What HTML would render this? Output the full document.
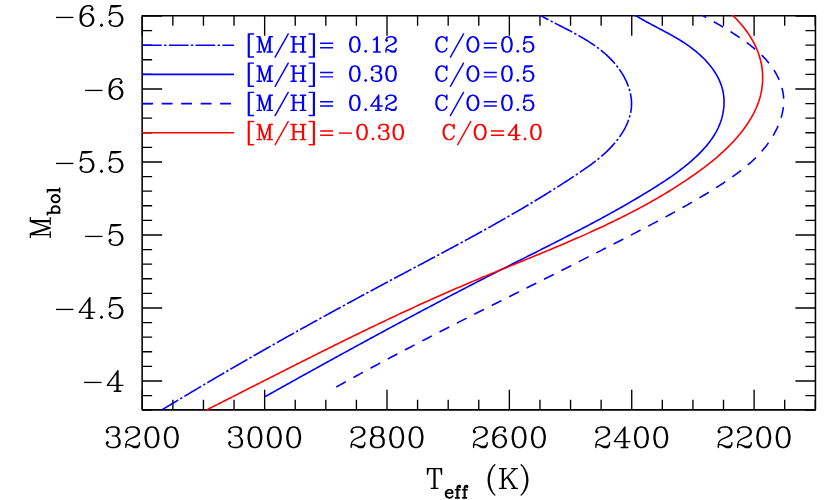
<!DOCTYPE html>
<html><head><meta charset="utf-8"><title>plot</title>
<style>html,body{margin:0;padding:0;background:#fff}svg{display:block}</style></head><body>
<svg width="830" height="500" viewBox="0 0 830 500">
<rect width="830" height="500" fill="#fff"/>
<defs>
<path id="g0" d="M124 -347l-3 2 -44 14 -5 3 -16 16 -3 4 -15 30 0 4 -1 1 0 18 3 7 16 16 7 3 9-3 16-16 3-7 -3-9 -16-16 -6-3 7-14 14-14 43-14 59 0 26 13 14 27 0 42 -13 26 -27 14 -46 0 -5 2 -3 3 -2 7 2 5 3 3 5 2 46 0 28 14 14 14 14 43 0 43 -14 28 -14 14 -28 14 -59 0 -43-14 -14-14 -7-14 6-3 16-16 3-9 -3-7 -16-16 -7-3 -9 3 -16 16 -3 7 0 18 1 1 0 4 15 30 19 20 5 3 44 14 3 2 2-1 1 1 69 0 6-3 41-13 5-3 19-20 15-30 0-4 1-1 0-50 -1-1 0-4 -15-30 -3-4 -32-32 -9-6 3-2 17-5 8-7 15-30 0-4 1-1 0-50 -1-1 0-4 -15-30 -8-7 -41-13 -6-3 -69 0 -1 1z"/>
<path id="g1" d="M77 -331l-5 3 -19 20 -15 30 0 4 -1 1 0 18 3 7 16 16 7 3 9-3 16-16 3-7 -3-9 -16-16 -6-3 7-14 14-14 43-14 59 0 28 14 14 14 14 28 0 26 -13 26 -3 3 -42 28 -95 47 -36 35 -3 5 -14 44 -2 3 1 2 -1 1 0 50 1 3 4 5 5 2 5-1 5-4 2-5 0-28 10-10 24 0 72 43 5 4 4 0 1 1 66 0 7-3 19-20 15-30 0-3 1-1 0-35 -2-5 -5-4 -3-1 -7 2 -4 5 -1 3 0 28 -12 12 -28 14 -43 0 -41-17 -2 0 -3-2 -2 0 -3-2 -2 0 -3-2 -2 0 -3-2 -2 0 -3-2 -2 0 -3-2 -2 0 -3-2 -3 0 -1-1 -33 0 -1-3 9-27 30-30 39-19 2 0 3-2 2 0 3-2 2 0 3-2 2 0 3-2 2 0 3-2 2 0 3-2 2 0 3-2 2 0 3-2 27-10 4-3 4-1 42-28 8-8 15-30 0-4 1-1 0-34 -1-1 0-4 -15-30 -19-20 -5-3 -41-13 -6-3 -69 0 -1 1 -2-1 -3 2z"/>
<path id="g2" d="M140 -347l-6 3 -41 13 -3 2 -6 6 -29 44 0 2 -3 6 0 4 -1 1 0 4 -1 1 0 4 -1 1 0 4 -1 1 0 4 -1 1 0 4 -1 1 0 4 -1 1 0 4 -1 1 0 4 -1 1 0 4 -1 1 0 4 -1 1 0 4 -1 1 0 4 -1 1 0 4 -2 6 0 56 1 1 0 4 1 1 0 4 1 1 0 4 1 1 0 4 1 1 0 4 1 1 0 4 1 1 0 4 1 1 0 4 1 1 0 4 1 1 0 4 1 1 0 4 1 1 0 4 1 1 3 17 3 7 28 42 9 8 41 13 6 3 40 0 6-3 41-13 3-2 6-6 29-44 0-2 3-6 0-4 1-1 0-4 1-1 0-4 1-1 0-4 1-1 0-4 1-1 0-4 1-1 0-4 1-1 0-4 1-1 0-4 1-1 0-4 1-1 0-4 1-1 0-4 1-1 0-4 1-1 0-4 2-6 0-56 -1-1 0-4 -1-1 0-4 -1-1 0-4 -1-1 0-4 -1-1 0-4 -1-1 0-4 -1-1 0-4 -1-1 0-4 -1-1 0-4 -1-1 0-4 -1-1 0-4 -1-1 0-4 -1-1 -3-17 -3-7 -28-42 -9-8 -41-13 -6-3zM147 -325l26 0 28 14 14 14 15 30 0 4 1 1 0 4 1 1 0 4 1 1 0 4 1 1 0 4 1 1 0 4 1 1 0 4 1 1 0 4 1 1 0 4 1 1 0 4 1 1 0 4 1 1 0 4 1 1 0 4 1 1 0 4 2 6 0 48 -1 1 0 4 -1 1 0 4 -1 1 0 4 -1 1 0 4 -1 1 0 4 -1 1 0 4 -1 1 0 4 -1 1 0 4 -1 1 -6 34 -15 30 -14 14 -28 14 -26 0 -28-14 -14-14 -15-30 0-4 -1-1 0-4 -1-1 0-4 -1-1 0-4 -1-1 0-4 -1-1 0-4 -1-1 0-4 -1-1 0-4 -1-1 0-4 -1-1 0-4 -1-1 0-4 -1-1 0-4 -1-1 0-4 -1-1 0-4 -2-6 0-48 1-1 0-4 1-1 0-4 1-1 0-4 1-1 0-4 1-1 0-4 1-1 0-4 1-1 0-4 1-1 0-4 1-1 6-34 15-30 14-14z"/>
<path id="g3" d="M124 -347l-6 3 -41 13 -8 7 -15 30 0 4 -1 1 0 50 1 1 0 4 15 30 8 7 11 3 3 2 -3 2 -11 3 -5 3 -16 16 -3 4 -15 30 0 4 -1 1 0 66 1 1 0 4 15 30 19 20 5 3 41 13 6 3 72 0 6-3 41-13 5-3 19-20 15-30 0-4 1-1 0-66 -1-1 0-4 -15-30 -3-4 -16-16 -5-3 -11-3 -3-2 3-2 11-3 8-7 15-30 0-4 1-1 0-50 -1-1 0-4 -15-30 -8-7 -41-13 -6-3zM131 -181l58 0 28 14 14 14 14 28 0 58 -14 28 -14 14 -28 14 -58 0 -28-14 -14-14 -14-28 0-58 14-28 14-14zM104 -311l27-14 58 0 26 13 14 27 0 42 -13 26 -27 14 -58 0 -26-13 -14-27 0-42z"/>
<path id="g4" d="M209 -347l-53 0 -6 3 -41 13 -5 3 -35 36 -15 30 -5 21 -1 1 0 3 -1 1 0 3 -1 1 0 3 -1 1 0 3 -1 1 0 3 -1 1 0 3 -1 1 0 3 -1 1 0 3 -1 1 0 3 -1 1 0 3 -1 1 0 3 -1 1 0 101 1 1 -1 2 2 3 14 44 3 5 32 32 5 3 41 13 6 3 40 0 6-3 41-13 5-3 32-32 3-5 14-44 2-3 -1-2 1-1 0-18 -1-1 1-2 -2-3 -14-44 -3-5 -32-32 -5-3 -41-13 -6-3 -21 0 -1 1 -2-1 -3 2 -44 14 -5 3 -28 28 -1-1 0-18 1-1 14-59 15-30 30-30 28-14 42 0 27 14 6 12 -6 3 -16 16 -3 7 3 9 16 16 7 3 5-1 4-2 16-16 3-7 0-18 -1-1 0-4 -15-30 -7-7 -30-15 -4 0zM173 -197l28 14 30 30 13 39 0 3 1 1 0 12 -14 43 -30 30 -28 14 -26 0 -28-14 -30-30 -13-39 0-3 -1-1 0-12 14-43 30-30 39-13 3 0 1-1z"/>
<path id="g5" d="M210 -347l-7 1 -4 3 -174 237 -4 9 2 7 3 3 5 2 149 0 1 1 0 72 -1 1 -37 0 -5 2 -3 3 -2 7 2 5 3 3 5 2 114 0 5-2 3-3 2-7 -2-5 -5-4 -3-1 -37 0 -1-1 0-72 1-1 69 0 5-2 3-3 2-5 -2-7 -3-3 -5-2 -69 0 -1-1 0-230 -1-3 -5-5zM180 -278l1 1 0 169 -1 1 -124 0 -1-2 9-11 2-4 9-11 2-4 9-11 2-4 9-11 2-4 9-11 2-4 9-11 2-4 9-11 2-4 9-11 35-49z"/>
<path id="g6" d="M64 -154.7H352V-133.3H64z"/>
<path id="g7" d="M78 -43l-6 3 -16 16 -3 9 3 7 16 16 9 3 7-3 16-16 3-9 -3-7 -16-16 -6-3z"/>
<path id="g8" d="M75 -346l-5 5 -2 6 0 4 -1 1 0 4 -1 1 0 4 -1 1 0 4 -1 1 0 4 -1 1 0 4 -1 1 0 4 -1 1 0 4 -1 1 0 4 -1 1 0 4 -1 1 0 4 -1 1 0 4 -1 1 0 4 -1 1 0 4 -1 1 0 4 -1 1 0 4 -1 1 0 4 -1 1 0 4 -1 1 0 4 -1 1 0 4 -1 1 0 4 -1 1 0 4 -1 1 0 4 -1 1 0 4 -1 1 0 4 -1 1 0 4 -1 1 0 4 -1 1 0 4 -1 1 0 4 -1 1 0 4 -2 6 1 9 5 5 3 1 7-1 34-33 39-13 3 0 1-1 43 0 28 14 30 30 14 43 0 28 -14 43 -30 30 -28 14 -43 0 -43-14 -14-14 -7-14 6-3 16-16 3-9 -3-7 -16-16 -4-2 -5-1 -7 3 -16 16 -3 7 0 18 1 1 0 4 15 30 19 20 5 3 44 14 3 2 2-1 1 1 53 0 6-3 41-13 5-3 32-32 3-5 14-44 2-3 -1-2 1-1 0-34 -1-1 1-2 -2-3 -14-44 -3-5 -32-32 -5-3 -41-13 -6-3 -53 0 -1 1 -2-1 -3 2 -44 14 -5 3 -4 4 -1-1 0-3 1-1 0-4 1-1 0-4 1-1 0-4 1-1 0-4 1-1 0-4 1-1 0-4 1-1 0-4 1-1 0-4 1-1 0-4 1-1 0-4 1-1 0-4 1-1 6-34 2-3 77 0 1-1 4 0 1-1 4 0 1-1 4 0 1-1 4 0 1-1 4 0 1-1 4 0 1-1 4 0 1-1 4 0 1-1 4 0 1-1 4 0 1-1 4 0 1-1 23-4 7-6 1-3 -1-7 -5-5 -3-1 -164 0z"/>
<path id="g9" d="M59 -416l-4 2 -5 5 -2 4 0 522 2 4 5 5 4 2 121 0 6-3 3-3 3-6 0-8 -3-6 -6-5 -3-1 -83 0 -1-1 0-478 1-1 83 0 6-3 5-6 1-3 0-8 -3-6 -3-3 -6-3z"/>
<path id="g10" d="M378 -349l-6-3 -66 0 -2-1 -9 3 -5 5 -88 265 -2 3 -2-3 -88-265 -5-5 -4-2 -73 0 -3 1 -6 5 -3 6 0 8 3 6 6 5 3 1 35 0 1 1 0 302 -1 1 -35 0 -6 3 -3 3 -3 6 0 8 1 3 5 6 6 3 104 0 6-3 3-3 3-6 0-8 -3-6 -6-5 -3-1 -35 0 -1-1 0-214 1-1 2 3 76 228 1 6 2 4 5 5 4 2 10 0 4-2 5-5 2-4 1-6 76-228 2-3 1 1 0 214 -1 1 -35 0 -6 3 -5 6 -1 3 0 8 1 3 5 6 6 3 120 0 3-1 6-5 3-6 0-8 -3-6 -6-5 -3-1 -35 0 -1-1 0-302 1-1 35 0 6-3 3-3 3-6 0-8 -1-3z"/>
<path id="g11" d="M327 -415l-3-1 -8 0 -6 3 -4 4 -3 7 -6 9 -3 7 -6 9 -3 7 -6 9 -3 7 -6 9 -3 7 -6 9 -3 7 -6 9 -3 7 -6 9 -3 7 -6 9 -3 7 -6 9 -3 7 -6 9 -3 7 -6 9 -3 7 -6 9 -3 7 -6 9 -3 7 -6 9 -3 7 -6 9 -3 7 -6 9 -3 7 -6 9 -3 7 -6 9 -3 7 -6 9 -3 7 -6 9 -3 7 -6 9 -3 7 -6 9 -3 7 -6 9 -3 7 -6 9 -3 7 -6 9 -3 7 -2 2 -16 30 -6 9 -3 7 -6 9 -3 7 -6 9 -3 7 -6 9 -3 7 -6 9 -2 5 0 8 3 6 6 5 3 1 8 0 6-3 4-4 3-7 6-9 3-7 6-9 3-7 6-9 3-7 6-9 3-7 6-9 3-7 6-9 3-7 6-9 3-7 6-9 3-7 6-9 3-7 6-9 3-7 6-9 3-7 6-9 3-7 6-9 3-7 6-9 3-7 6-9 3-7 6-9 3-7 6-9 3-7 6-9 3-7 6-9 3-7 6-9 3-7 6-9 3-7 6-9 3-7 6-9 3-7 6-9 3-7 6-9 3-7 2-2 16-30 6-9 3-7 6-9 3-7 6-9 3-7 6-9 3-7 6-9 2-5 0-8 -3-6z"/>
<path id="g12" d="M22 -349l-3 3 -3 6 0 8 1 3 5 6 6 3 35 0 1 1 0 302 -1 1 -35 0 -3 1 -6 5 -3 6 0 8 3 6 3 3 6 3 120 0 6-3 5-6 1-3 0-8 -3-6 -6-5 -3-1 -35 0 -1-1 0-142 1-1 158 0 1 1 0 142 -1 1 -35 0 -6 3 -5 6 -1 3 0 8 1 3 5 6 6 3 120 0 6-3 3-3 3-6 0-8 -1-3 -5-6 -6-3 -35 0 -1-1 0-302 1-1 35 0 3-1 6-5 3-6 0-8 -3-6 -3-3 -6-3 -120 0 -6 3 -5 6 -1 3 0 8 3 6 6 5 3 1 35 0 1 1 0 126 -1 1 -158 0 -1-1 0-126 1-1 35 0 6-3 5-6 1-3 0-8 -1-3 -5-6 -6-3 -120 0z"/>
<path id="g13" d="M44 -416l-6 3 -3 3 -3 6 0 8 3 6 6 5 3 1 83 0 1 1 0 478 -1 1 -83 0 -6 3 -5 6 -1 3 0 8 3 6 3 3 6 3 121 0 4-2 5-5 2-4 0-522 -2-4 -5-5 -4-2z"/>
<path id="g14" d="M64 -208.0H352V-176.0H64zM64 -112.0H352V-80.0H64z"/>
<path id="g15" d="M144 -353l-50 17 -3 0 -5 3 -4 4 -32 48 -3 9 0 4 -1 1 0 4 -1 1 0 4 -1 1 0 4 -1 1 0 4 -1 1 0 4 -1 1 0 4 -1 1 0 4 -1 1 0 4 -1 1 0 4 -1 1 0 4 -1 1 0 4 -1 1 0 4 -1 1 0 4 -2 6 0 58 1 1 0 4 1 1 0 4 1 1 0 4 1 1 0 4 1 1 0 4 1 1 0 4 1 1 0 4 1 1 0 4 1 1 0 4 1 1 0 4 1 1 0 4 1 1 0 4 1 1 0 4 1 1 0 4 1 1 0 4 2 7 33 50 4 4 5 3 3 0 39 13 6 3 42 0 6-3 39-13 3 0 5-3 4-4 32-48 3-9 0-4 1-1 0-4 1-1 0-4 1-1 0-4 1-1 0-4 1-1 0-4 1-1 0-4 1-1 0-4 1-1 0-4 1-1 0-4 1-1 0-4 1-1 0-4 1-1 0-4 1-1 0-4 2-6 0-58 -1-1 0-4 -1-1 0-4 -1-1 0-4 -1-1 0-4 -1-1 0-4 -1-1 0-4 -1-1 0-4 -1-1 0-4 -1-1 0-4 -1-1 0-4 -1-1 0-4 -1-1 0-4 -1-1 0-4 -1-1 0-4 -1-1 0-4 -2-7 -33-50 -4-4 -5-3 -3 0 -39-13 -6-3 -35 0zM148 -320l24 0 26 13 13 13 14 28 0 4 1 1 0 4 1 1 0 4 1 1 0 4 1 1 0 4 1 1 0 4 1 1 0 4 1 1 0 4 1 1 0 4 1 1 0 4 1 1 0 4 1 1 0 4 1 1 0 4 2 6 0 5 1 1 0 44 -1 1 0 5 -1 1 0 4 -1 1 0 4 -1 1 0 4 -1 1 0 4 -1 1 0 4 -1 1 0 4 -1 1 0 4 -1 1 -6 34 -14 28 -13 13 -26 13 -24 0 -26-13 -13-13 -14-28 0-4 -1-1 0-4 -1-1 0-4 -1-1 0-4 -1-1 0-4 -1-1 0-4 -1-1 0-4 -1-1 0-4 -1-1 0-4 -1-1 0-4 -1-1 0-4 -1-1 0-4 -1-1 0-4 -2-6 0-5 -1-1 0-44 1-1 0-5 1-1 0-4 1-1 0-4 1-1 0-4 1-1 0-4 1-1 0-4 1-1 0-4 1-1 0-4 1-1 6-34 14-28 13-13z"/>
<path id="g16" d="M75 -48l-4 2 -20 20 -3 6 0 8 3 6 19 19 6 3 8 0 6-3 19-19 3-6 0-8 -3-6 -20-20 -4-2z"/>
<path id="g17" d="M180 -352l-8 0 -6 3 -48 48 -29 14 -6 5 -3 6 0 8 3 6 6 5 3 1 8 0 35-17 8-7 1 1 0 262 -1 1 -51 0 -6 3 -5 6 -1 3 0 8 3 6 3 3 6 3 152 0 6-3 3-3 3-6 0-8 -1-3 -5-6 -6-3 -51 0 -1-1 0-323 -3-6 -3-3z"/>
<path id="g18" d="M75 -336l-5 3 -19 19 -19 38 0 24 3 6 22 21 3 1 8 0 6-3 19-19 3-6 0-8 -3-6 -20-20 4-8 14-13 40-13 57 0 26 13 13 13 13 26 0 24 -12 24 -2 2 -42 28 -95 47 -38 37 -3 5 0 3 -14 42 -2 3 0 57 1 3 5 6 6 3 8 0 6-3 3-3 3-6 0-29 7-7 20 0 76 46 5 2 72 0 3-1 22-21 19-37 0-41 -3-6 -6-5 -3-1 -8 0 -3 1 -6 5 -3 6 0 29 -10 10 -26 13 -41 0 -41-17 -2 0 -3-2 -2 0 -3-2 -2 0 -3-2 -2 0 -3-2 -2 0 -3-2 -2 0 -3-2 -2 0 -5-3 -29 0 -1-3 7-20 28-28 37-18 2 0 3-2 2 0 3-2 2 0 53-22 5-1 52-34 6-7 17-35 0-40 -19-38 -19-19 -5-3 -3 0 -39-13 -6-3 -74 0 -6 3 -39 13z"/>
<path id="g19" d="M292 -352l-8 0 -3 1 -6 5 -3 5 0 3 -7 19 -15-14 -5-3 -3 0 -39-13 -6-3 -42 0 -6 3 -44 14 -3 2 -37 38 -17 34 0 3 -14 42 -2 3 0 90 3 6 13 39 0 3 19 37 38 37 44 14 6 3 42 0 6-3 44-14 3-2 37-38 17-35 0-8 -3-6 -6-5 -3-1 -8 0 -6 3 -5 6 -14 29 -30 29 -40 13 -25 0 -26-13 -29-29 -14-28 -14-41 0-3 -1-1 0-74 13-40 16-33 29-29 26-13 25 0 42 14 27 27 14 41 0 3 3 5 3 3 6 3 8 0 6-3 3-3 3-6 0-104 -3-6 -3-3z"/>
<path id="g20" d="M160 -353l-55 18 -3 2 -37 38 -16 32 -11 46 -1 1 0 3 -1 1 0 3 -1 1 0 3 -1 1 0 3 -2 4 0 58 2 4 0 3 1 1 0 3 1 1 0 3 1 1 0 3 1 1 11 46 16 32 37 38 5 3 3 0 39 13 6 3 42 0 6-3 44-14 3-2 37-38 16-32 11-46 1-1 0-3 1-1 0-3 1-1 0-3 1-1 0-3 2-4 0-58 -2-4 0-3 -1-1 0-3 -1-1 0-3 -1-1 0-3 -1-1 -11-46 -16-32 -37-38 -5-3 -3 0 -39-13 -6-3 -35 0zM164 -320l24 0 26 13 29 29 15 31 0 3 1 1 0 3 1 1 0 3 1 1 0 3 1 1 0 3 1 1 0 3 8 29 0 4 1 1 0 44 -1 1 0 4 -1 1 0 3 -1 1 0 3 -1 1 -11 46 -14 28 -29 29 -26 13 -24 0 -26-13 -29-29 -15-31 0-3 -1-1 0-3 -1-1 0-3 -1-1 0-3 -1-1 0-3 -1-1 0-3 -8-29 0-4 -1-1 0-44 1-1 0-4 1-1 0-3 1-1 0-3 1-1 11-46 14-28 29-29z"/>
<path id="g21" d="M75 -352l-4 2 -5 5 -3 8 0 5 -1 1 0 4 -1 1 0 4 -1 1 0 4 -1 1 0 4 -1 1 0 4 -1 1 0 4 -1 1 0 4 -1 1 0 4 -1 1 0 4 -1 1 0 4 -1 1 0 4 -1 1 0 4 -1 1 0 4 -1 1 0 4 -1 1 0 4 -1 1 0 4 -1 1 0 4 -1 1 0 4 -1 1 0 4 -1 1 0 4 -1 1 0 4 -1 1 0 4 -1 1 0 4 -1 1 0 4 -1 1 0 4 -1 1 0 4 -1 1 0 4 -1 1 0 4 -1 1 0 4 -2 6 0 10 2 4 5 5 4 2 10 0 4-2 34-33 40-13 41 0 26 13 28 28 14 42 0 26 -14 42 -28 28 -26 13 -41 0 -42-14 -12-12 -4-8 20-20 3-6 0-8 -3-6 -19-19 -6-3 -8 0 -6 3 -21 22 -1 3 0 24 19 38 19 19 5 3 3 0 42 14 3 2 58 0 6-3 39-13 3 0 5-3 37-38 14-44 3-6 0-42 -3-6 -13-39 0-3 -3-5 -38-37 -44-14 -6-3 -58 0 -6 3 -39 13 -3 0 -1-1 1-1 0-4 1-1 0-4 1-1 0-4 1-1 0-4 1-1 0-4 1-1 0-4 1-1 0-4 1-1 0-4 1-1 6-34 2-4 74 0 1-1 4 0 1-1 4 0 1-1 4 0 1-1 4 0 1-1 4 0 1-1 4 0 1-1 4 0 1-1 4 0 1-1 4 0 1-1 4 0 1-1 4 0 1-1 4 0 1-1 4 0 6-2 5 0 8-3 5-5 2-4 0-10 -2-4 -5-5 -4-2z"/>
<path id="g22" d="M123 -352l-6 3 -44 14 -22 21 -19 38 0 24 3 6 22 21 3 1 8 0 6-3 19-19 3-6 0-8 -3-6 -20-20 4-8 14-13 40-13 57 0 22 11 3 3 11 22 0 40 -11 22 -3 3 -22 11 -48 0 -6 3 -5 6 -1 3 0 8 3 6 3 3 6 3 48 0 26 13 12 12 14 42 0 41 -13 26 -13 13 -26 13 -57 0 -40-13 -14-13 -4-8 20-20 3-6 0-8 -3-6 -19-19 -6-3 -8 0 -6 3 -21 22 -1 3 0 24 19 38 19 19 5 3 3 0 42 14 3 2 74 0 6-3 39-13 3 0 5-3 19-19 19-38 0-56 -19-38 -34-34 1-2 11-3 6-5 19-38 0-56 -17-35 -5-6 -5-3 -3 0 -39-13 -6-3z"/>
<path id="g23" d="M213 -352l-10 0 -4 2 -5 5 -2 4 -9 11 -2 4 -9 11 -2 4 -9 11 -2 4 -9 11 -2 4 -9 11 -2 4 -119 161 -2 5 0 8 1 3 5 6 6 3 147 0 1 1 0 62 -1 1 -35 0 -6 3 -5 6 -1 3 0 8 3 6 3 3 6 3 120 0 3-1 6-5 3-6 0-8 -1-3 -5-6 -6-3 -35 0 -1-1 0-62 1-1 67 0 6-3 3-3 3-6 0-8 -1-3 -5-6 -6-3 -67 0 -1-1 0-228 -2-4 -5-5zM175 -263l1 1 0 149 -1 1 -109 0 -1-2z"/>
<path id="g24" d="M64 -160.0H352V-128.0H64z"/>
<path id="g25" d="M25 -345l-4 6 0 102 2 4 6 4 6 0 4-2 2-2 3-7 0-6 1-1 0-5 1-1 0-5 1-1 0-5 1-1 0-5 1-1 0-5 1-1 0-5 1-1 0-5 1-1 0-5 1-1 0-5 1-1 0-5 1-1 0-5 1-1 0-5 2-7 74 0 1 1 0 312 -1 1 -39 0 -4 2 -4 6 0 6 2 4 6 4 118 0 4-2 4-6 0-6 -2-4 -6-4 -39 0 -1-1 0-312 1-1 74 0 1 1 0 5 1 1 0 5 1 1 0 5 1 1 0 5 1 1 0 5 1 1 0 5 1 1 0 5 1 1 0 5 1 1 0 5 1 1 0 5 1 1 0 5 1 1 0 5 2 7 0 6 3 7 2 2 4 2 6 0 4-2 4-6 0-102 -2-4 -6-4 -246 0z"/>
<path id="g26" d="M138 -246l-6 3 -39 13 -3 0 -6 3 -4 3 -35 36 -3 6 0 3 -16 46 0 42 16 46 0 3 3 6 3 4 36 35 6 3 3 0 39 13 6 3 43 0 46-16 3 0 10-6 35-36 3-7 0-10 -3-7 -7-7 -7-3 -10 0 -7 3 -4 3 -27 28 -4 2 -37 12 -23 0 -25-13 -24-24 -13-37 -1-9 1-1 174 0 7-3 7-7 3-7 0-42 -2-6 -2-2 -15-31 -3-4 -21-20 -4-1 -26-13 -2-2 -6-2zM95 -152l5-13 24-24 25-13 38 0 18 9 4 4 9 18 0 20 -1 1 -121 0z"/>
<path id="g27" d="M168 -357l-3-1 -43 0 -38 19 -9 10 0 2 -13 26 -2 2 -2 6 0 46 -1 1 -30 0 -7 3 -7 7 -3 7 0 10 3 7 7 7 7 3 30 0 1 1 0 178 -1 1 -30 0 -7 3 -7 7 -3 7 0 10 3 7 7 7 7 3 122 0 7-3 7-7 3-7 0-10 -3-7 -7-7 -7-3 -30 0 -1-1 0-178 1-1 46 0 7-3 7-7 3-7 0-10 -3-7 -7-7 -7-3 -46 0 -1-1 0-36 6-10 4 5 20 19 7 3 10 0 7-3 4-3 19-20 3-7 0-26 -1-3 -5-8 -3-2 -13-14z"/>
<path id="g28" d="M173 -411l-4 2 -35 35 -32 48 -32 64 -2 6 0 5 -1 1 0 4 -1 1 0 4 -1 1 0 4 -1 1 0 4 -1 1 0 4 -1 1 0 4 -1 1 0 4 -1 1 -6 34 -1 1 0 72 1 1 0 4 1 1 0 4 1 1 0 4 1 1 0 4 1 1 0 4 1 1 0 4 1 1 0 4 1 1 0 4 1 1 0 4 1 1 0 4 1 1 0 4 1 1 0 4 1 1 0 4 2 6 0 5 2 6 32 64 32 48 35 35 4 2 6 0 4-2 4-6 0-6 -2-4 -32-32 -32-64 -15-46 0-4 -1-1 0-4 -1-1 0-4 -1-1 0-4 -1-1 0-4 -1-1 0-4 -1-1 0-4 -1-1 0-4 -1-1 0-4 -1-1 0-4 -1-1 0-4 -1-1 0-4 -1-1 0-4 -2-6 0-5 -1-1 0-62 1-1 0-5 1-1 0-4 1-1 0-4 1-1 0-4 1-1 0-4 1-1 0-4 1-1 0-4 1-1 0-4 1-1 6-34 15-46 32-64 32-32 2-4 0-6 -2-4 -6-4z"/>
<path id="g29" d="M25 -345l-4 6 0 6 2 4 6 4 39 0 1 1 0 312 -1 1 -39 0 -4 2 -4 6 0 6 2 4 6 4 118 0 6-4 2-4 0-6 -2-4 -6-4 -39 0 -1-1 0-111 51-51 108 161 -1 2 -28 0 -4 2 -4 6 0 6 4 6 4 2 102 0 4-2 4-6 0-6 -4-6 -4-2 -28 0 -4-4 -16-24 -1-3 -106-158 125-125 30 0 4-2 4-6 0-6 -2-4 -6-4 -102 0 -4 2 -4 6 0 6 2 4 6 4 38 0 1 1 -168 168 -1-1 0-167 1-1 39 0 6-4 2-4 0-6 -2-4 -6-4 -118 0z"/>
<path id="g30" d="M45 -411l-4 2 -4 6 0 6 2 4 32 32 32 64 15 46 0 4 1 1 0 4 1 1 0 4 1 1 0 4 1 1 0 4 1 1 0 4 1 1 0 4 1 1 0 4 1 1 0 4 1 1 0 4 1 1 0 4 1 1 0 4 1 1 0 4 2 6 0 5 1 1 0 62 -1 1 0 5 -1 1 0 4 -1 1 0 4 -1 1 0 4 -1 1 0 4 -1 1 0 4 -1 1 0 4 -1 1 0 4 -1 1 -6 34 -15 46 -32 64 -32 32 -2 4 0 6 2 4 6 4 6 0 4-2 35-35 32-48 32-64 2-6 0-5 1-1 0-4 1-1 0-4 1-1 0-4 1-1 0-4 1-1 0-4 1-1 0-4 1-1 0-4 1-1 6-34 1-1 0-72 -1-1 0-4 -1-1 0-4 -1-1 0-4 -1-1 0-4 -1-1 0-4 -1-1 0-4 -1-1 0-4 -1-1 0-4 -1-1 0-4 -1-1 0-4 -1-1 0-4 -1-1 0-4 -1-1 0-4 -2-6 0-5 -2-6 -32-64 -32-48 -35-35 -4-2z"/>
<path id="g31" d="M375 -345l-4-2 -66 0 -1-1 -6 2 -4 4 -92 278 -2 3 -2-3 -92-278 -6-5 -71 0 -6 4 -2 4 0 6 2 4 6 4 39 0 1 1 0 312 -1 1 -39 0 -4 2 -4 6 0 6 4 6 4 2 102 0 4-2 4-6 0-6 -2-4 -6-4 -39 0 -1-1 0-250 1-1 2 3 86 258 2 8 6 5 8 0 3-2 4-5 1-6 86-258 2-3 1 1 0 250 -1 1 -39 0 -6 4 -2 4 0 6 2 4 6 4 118 0 6-4 2-4 0-6 -2-4 -6-4 -39 0 -1-1 0-312 1-1 39 0 4-2 4-6 0-6z"/>
<path id="g32" d="M20 -355l-7 7 -3 7 0 10 3 7 7 7 7 3 30 0 1 1 0 318 3 7 7 7 7 3 10 0 1-1 15 1 7-3 7-7 2-6 2-2 28 14 2 2 6 2 43 0 6-3 39-13 3 0 6-3 4-3 35-36 3-6 0-3 16-46 0-42 -16-46 0-3 -3-6 -3-4 -36-35 -6-3 -3 0 -39-13 -6-3 -43 0 -6 2 -2 2 -26 13 -2 0 -1-1 0-112 -5-9 -11-7 -75 0zM165 -202l22 0 25 13 24 24 14 41 0 24 -14 41 -24 24 -25 13 -22 0 -25-13 -22-23 0-108 22-23z"/>
<path id="g33" d="M144 -247l-1 1 -5 0 -6 3 -39 13 -3 0 -6 3 -36 35 -6 10 0 3 -16 46 0 42 16 46 0 3 3 6 3 4 36 35 6 3 3 0 39 13 6 3 44 0 6-3 39-13 3 0 6-3 4-3 35-36 3-6 0-3 16-46 0-42 -16-46 0-3 -3-6 -35-36 -10-6 -3 0 -39-13 -6-3 -35 0zM150 -202l20 0 26 13 24 24 14 41 0 24 -14 41 -24 24 -25 13 -22 0 -25-13 -24-24 -14-41 0-24 14-41 24-24z"/>
<path id="g34" d="M27 -358l-7 3 -7 7 -3 7 0 10 3 7 7 7 7 3 30 0 1 1 0 290 -1 1 -30 0 -7 3 -7 7 -3 7 0 10 3 7 7 7 7 3 122 0 7-3 7-7 3-7 0-10 -3-7 -7-7 -7-3 -30 0 -1-1 0-319 -5-9 -11-7z"/>
</defs>
<path d="M142.27 15.77v20M142.27 409.84v-20M172.86 15.77v10M172.86 409.84v-10M203.45 15.77v10M203.45 409.84v-10M234.04 15.77v10M234.04 409.84v-10M264.64 15.77v20M264.64 409.84v-20M295.23 15.77v10M295.23 409.84v-10M325.82 15.77v10M325.82 409.84v-10M356.41 15.77v10M356.41 409.84v-10M387.00 15.77v20M387.00 409.84v-20M417.59 15.77v10M417.59 409.84v-10M448.19 15.77v10M448.19 409.84v-10M478.78 15.77v10M478.78 409.84v-10M509.37 15.77v20M509.37 409.84v-20M539.96 15.77v10M539.96 409.84v-10M570.55 15.77v10M570.55 409.84v-10M601.14 15.77v10M601.14 409.84v-10M631.73 15.77v20M631.73 409.84v-20M662.33 15.77v10M662.33 409.84v-10M692.92 15.77v10M692.92 409.84v-10M723.51 15.77v10M723.51 409.84v-10M754.10 15.77v20M754.10 409.84v-20M784.69 15.77v10M784.69 409.84v-10M815.28 15.77v10M815.28 409.84v-10M142.14 15.97h20M815.42 15.97h-20M142.14 30.57h10M815.42 30.57h-10M142.14 45.17h10M815.42 45.17h-10M142.14 59.77h10M815.42 59.77h-10M142.14 74.37h10M815.42 74.37h-10M142.14 88.97h20M815.42 88.97h-20M142.14 103.57h10M815.42 103.57h-10M142.14 118.17h10M815.42 118.17h-10M142.14 132.77h10M815.42 132.77h-10M142.14 147.37h10M815.42 147.37h-10M142.14 161.97h20M815.42 161.97h-20M142.14 176.57h10M815.42 176.57h-10M142.14 191.17h10M815.42 191.17h-10M142.14 205.77h10M815.42 205.77h-10M142.14 220.37h10M815.42 220.37h-10M142.14 234.97h20M815.42 234.97h-20M142.14 249.57h10M815.42 249.57h-10M142.14 264.17h10M815.42 264.17h-10M142.14 278.77h10M815.42 278.77h-10M142.14 293.37h10M815.42 293.37h-10M142.14 307.97h20M815.42 307.97h-20M142.14 322.57h10M815.42 322.57h-10M142.14 337.17h10M815.42 337.17h-10M142.14 351.77h10M815.42 351.77h-10M142.14 366.37h10M815.42 366.37h-10M142.14 380.97h20M815.42 380.97h-20M142.14 395.57h10M815.42 395.57h-10M142.14 410.17h10M815.42 410.17h-10" stroke="#000" stroke-width="1.35" fill="none"/>
<rect x="142.14" y="15.77" width="673.3" height="394.1" fill="none" stroke="#000" stroke-width="1.55" stroke-linejoin="round"/>
<clipPath id="c"><rect x="141.34" y="14.97" width="674.88" height="395.67"/></clipPath>
<g fill="none" stroke-width="1.6" clip-path="url(#c)">
<path d="M161.45 410.18 L162.95 409.27 L164.46 408.35 L165.96 407.44 L167.46 406.53 L168.97 405.62 L170.48 404.71 L171.98 403.80 L173.49 402.89 L175.00 401.98 L176.51 401.07 L178.02 400.16 L179.53 399.25 L181.04 398.35 L182.55 397.44 L184.06 396.54 L185.57 395.63 L187.08 394.73 L188.59 393.82 L190.11 392.92 L191.62 392.02 L193.14 391.12 L194.65 390.22 L196.17 389.32 L197.68 388.42 L199.20 387.52 L200.72 386.62 L202.23 385.72 L203.75 384.83 L205.27 383.93 L206.79 383.03 L208.31 382.14 L209.83 381.24 L211.35 380.35 L212.87 379.46 L214.39 378.56 L215.92 377.67 L217.44 376.78 L218.96 375.89 L220.48 375.00 L222.01 374.11 L223.53 373.22 L225.06 372.33 L226.58 371.45 L228.11 370.56 L229.64 369.67 L231.16 368.79 L232.69 367.90 L234.22 367.02 L235.74 366.13 L237.27 365.25 L238.80 364.36 L240.33 363.48 L241.86 362.60 L243.39 361.72 L244.92 360.84 L246.45 359.96 L247.98 359.08 L249.52 358.20 L251.05 357.32 L252.58 356.44 L254.11 355.57 L255.65 354.69 L257.18 353.82 L258.72 352.94 L260.25 352.07 L261.79 351.19 L263.32 350.32 L264.86 349.44 L266.39 348.57 L267.93 347.70 L269.47 346.83 L271.00 345.96 L272.54 345.09 L274.08 344.22 L275.62 343.35 L277.16 342.48 L278.70 341.61 L280.23 340.75 L281.77 339.88 L283.31 339.01 L284.85 338.15 L286.40 337.28 L287.94 336.42 L289.48 335.55 L291.02 334.69 L292.56 333.83 L294.10 332.97 L295.65 332.10 L297.19 331.24 L298.73 330.38 L300.28 329.52 L301.82 328.66 L303.36 327.80 L304.91 326.95 L306.45 326.09 L308.00 325.23 L309.54 324.37 L311.09 323.52 L312.64 322.66 L314.18 321.81 L315.73 320.95 L317.27 320.10 L318.82 319.25 L320.37 318.39 L321.92 317.54 L323.46 316.69 L325.01 315.84 L326.56 314.99 L328.11 314.14 L329.66 313.29 L331.21 312.44 L332.75 311.59 L334.30 310.74 L335.85 309.89 L337.40 309.05 L338.95 308.20 L340.50 307.35 L342.05 306.51 L343.60 305.66 L345.16 304.82 L346.71 303.97 L348.26 303.13 L349.81 302.29 L351.36 301.44 L352.91 300.60 L354.46 299.76 L356.02 298.92 L357.57 298.08 L359.12 297.24 L360.67 296.40 L362.23 295.56 L363.78 294.72 L365.33 293.89 L366.89 293.05 L368.44 292.21 L369.99 291.38 L371.55 290.54 L373.10 289.70 L374.66 288.87 L376.21 288.04 L377.76 287.20 L379.32 286.37 L380.87 285.54 L382.43 284.70 L383.98 283.87 L385.54 283.04 L387.09 282.21 L388.65 281.38 L390.20 280.55 L391.76 279.72 L393.31 278.89 L394.87 278.06 L396.43 277.23 L397.98 276.41 L399.54 275.58 L401.09 274.75 L402.65 273.92 L404.21 273.10 L405.76 272.27 L407.32 271.45 L408.87 270.62 L410.43 269.79 L411.99 268.97 L413.54 268.14 L415.10 267.32 L416.65 266.49 L418.21 265.67 L419.76 264.84 L421.32 264.02 L422.87 263.19 L424.43 262.36 L425.98 261.54 L427.54 260.71 L429.09 259.89 L430.65 259.06 L432.20 258.23 L433.75 257.41 L435.31 256.58 L436.86 255.75 L438.42 254.92 L439.97 254.10 L441.52 253.27 L443.07 252.44 L444.62 251.61 L446.18 250.78 L447.73 249.95 L449.28 249.11 L450.83 248.28 L452.38 247.45 L453.93 246.62 L455.48 245.78 L457.03 244.95 L458.58 244.11 L460.13 243.28 L461.67 242.44 L463.22 241.60 L464.77 240.76 L466.31 239.92 L467.86 239.08 L469.41 238.24 L470.95 237.40 L472.50 236.55 L474.04 235.71 L475.58 234.86 L477.13 234.02 L478.67 233.17 L480.21 232.32 L481.75 231.47 L483.29 230.62 L484.83 229.76 L486.37 228.91 L487.91 228.05 L489.45 227.20 L490.98 226.34 L492.52 225.48 L494.06 224.62 L495.59 223.75 L497.13 222.89 L498.66 222.02 L500.19 221.16 L501.73 220.29 L503.26 219.42 L504.79 218.55 L506.32 217.67 L507.85 216.80 L509.38 215.92 L510.90 215.04 L512.43 214.16 L513.95 213.28 L515.48 212.39 L517.00 211.51 L518.53 210.62 L520.05 209.73 L521.57 208.84 L523.09 207.94 L524.61 207.05 L526.13 206.15 L527.65 205.25 L529.16 204.35 L530.68 203.44 L532.19 202.54 L533.71 201.63 L535.22 200.72 L536.73 199.80 L538.24 198.89 L539.75 197.97 L541.26 197.05 L542.77 196.13 L544.27 195.20 L545.78 194.28 L547.28 193.35 L548.79 192.41 L550.29 191.48 L551.79 190.54 L553.29 189.60 L554.79 188.66 L556.28 187.71 L557.78 186.77 L559.27 185.81 L560.77 184.86 L562.26 183.91 L563.75 182.95 L565.24 181.98 L566.73 181.02 L568.21 180.05 L569.70 179.08 L571.18 178.11 L572.67 177.13 L574.15 176.15 L575.63 175.17 L577.11 174.19 L578.59 173.20 L580.06 172.21 L581.53 171.21 L583.00 170.20 L584.46 169.20 L585.92 168.18 L587.37 167.16 L588.81 166.12 L590.25 165.08 L591.68 164.03 L593.09 162.97 L594.50 161.90 L595.90 160.82 L597.28 159.72 L598.66 158.61 L600.02 157.49 L601.36 156.35 L602.70 155.20 L604.01 154.03 L605.31 152.84 L606.60 151.64 L607.86 150.42 L609.11 149.18 L610.34 147.93 L611.55 146.65 L612.73 145.35 L613.90 144.03 L615.04 142.69 L616.16 141.32 L617.26 139.93 L618.33 138.52 L619.38 137.09 L620.40 135.63 L621.38 134.16 L622.34 132.66 L623.26 131.14 L624.14 129.61 L624.98 128.06 L625.78 126.49 L626.54 124.91 L627.25 123.31 L627.92 121.70 L628.53 120.07 L629.10 118.44 L629.61 116.79 L630.07 115.13 L630.47 113.47 L630.81 111.79 L631.09 110.11 L631.30 108.42 L631.45 106.73 L631.53 105.03 L631.55 103.33 L631.50 101.63 L631.38 99.93 L631.21 98.22 L630.97 96.52 L630.67 94.82 L630.32 93.13 L629.91 91.44 L629.44 89.76 L628.92 88.08 L628.36 86.42 L627.74 84.77 L627.07 83.13 L626.36 81.50 L625.61 79.89 L624.81 78.30 L623.97 76.72 L623.09 75.16 L622.17 73.62 L621.22 72.11 L620.23 70.61 L619.21 69.14 L618.16 67.70 L617.08 66.28 L615.98 64.89 L614.84 63.53 L613.68 62.19 L612.49 60.88 L611.28 59.60 L610.04 58.33 L608.78 57.09 L607.49 55.88 L606.19 54.68 L604.86 53.51 L603.52 52.36 L602.15 51.23 L600.77 50.12 L599.37 49.03 L597.95 47.96 L596.52 46.90 L595.07 45.87 L593.60 44.85 L592.13 43.84 L590.64 42.86 L589.14 41.88 L587.62 40.92 L586.10 39.98 L584.57 39.05 L583.03 38.13 L581.48 37.22 L579.92 36.33 L578.36 35.44 L576.79 34.57 L575.22 33.70 L573.65 32.84 L572.07 32.00 L570.49 31.16 L568.91 30.32 L567.32 29.50 L565.74 28.68 L564.16 27.86 L562.58 27.05 L561.01 26.24 L559.43 25.44 L557.87 24.64 L556.30 23.84 L554.75 23.04 L553.20 22.24 L551.66 21.45 L550.12 20.65 L548.60 19.85 L547.08 19.06 L545.58 18.26 L544.09 17.45 L542.61 16.65 L541.15 15.83 L539.39 14.87" stroke="#00f" stroke-dasharray="19.6 2.35 2.4 2.39"/>
<path d="M264.59 396.90 L266.10 396.05 L267.61 395.21 L269.12 394.37 L270.63 393.53 L272.13 392.68 L273.64 391.84 L275.15 391.00 L276.66 390.16 L278.16 389.32 L279.67 388.48 L281.18 387.63 L282.69 386.79 L284.20 385.95 L285.70 385.11 L287.21 384.27 L288.72 383.44 L290.23 382.60 L291.74 381.76 L293.24 380.92 L294.75 380.08 L296.26 379.24 L297.77 378.40 L299.28 377.57 L300.78 376.73 L302.29 375.89 L303.80 375.06 L305.31 374.22 L306.82 373.38 L308.32 372.55 L309.83 371.71 L311.34 370.88 L312.85 370.04 L314.36 369.21 L315.87 368.38 L317.38 367.54 L318.89 366.71 L320.39 365.87 L321.90 365.04 L323.41 364.21 L324.92 363.38 L326.43 362.55 L327.94 361.71 L329.45 360.88 L330.96 360.05 L332.47 359.22 L333.98 358.39 L335.49 357.56 L337.00 356.73 L338.51 355.90 L340.02 355.07 L341.53 354.24 L343.04 353.42 L344.55 352.59 L346.06 351.76 L347.57 350.93 L349.08 350.11 L350.59 349.28 L352.11 348.45 L353.62 347.63 L355.13 346.80 L356.64 345.98 L358.15 345.15 L359.66 344.33 L361.18 343.51 L362.69 342.68 L364.20 341.86 L365.71 341.04 L367.23 340.21 L368.74 339.39 L370.25 338.57 L371.77 337.75 L373.28 336.93 L374.79 336.11 L376.31 335.29 L377.82 334.47 L379.34 333.65 L380.85 332.83 L382.37 332.01 L383.88 331.19 L385.40 330.37 L386.91 329.56 L388.43 328.74 L389.94 327.92 L391.46 327.11 L392.98 326.29 L394.49 325.48 L396.01 324.66 L397.53 323.85 L399.04 323.03 L400.56 322.22 L402.08 321.41 L403.60 320.59 L405.12 319.78 L406.63 318.97 L408.15 318.16 L409.67 317.35 L411.19 316.53 L412.71 315.72 L414.23 314.91 L415.75 314.11 L417.27 313.30 L418.79 312.49 L420.31 311.68 L421.84 310.87 L423.36 310.07 L424.88 309.26 L426.40 308.45 L427.92 307.65 L429.45 306.84 L430.97 306.04 L432.49 305.23 L434.02 304.43 L435.54 303.62 L437.06 302.82 L438.59 302.02 L440.11 301.22 L441.64 300.41 L443.16 299.61 L444.69 298.81 L446.22 298.01 L447.74 297.21 L449.27 296.41 L450.80 295.62 L452.33 294.82 L453.85 294.02 L455.38 293.22 L456.91 292.42 L458.44 291.63 L459.97 290.83 L461.50 290.04 L463.03 289.24 L464.56 288.45 L466.09 287.65 L467.62 286.86 L469.15 286.07 L470.69 285.28 L472.22 284.48 L473.75 283.69 L475.28 282.90 L476.82 282.11 L478.35 281.32 L479.89 280.53 L481.42 279.74 L482.96 278.96 L484.49 278.17 L486.03 277.38 L487.56 276.59 L489.10 275.81 L490.64 275.02 L492.18 274.24 L493.71 273.45 L495.25 272.67 L496.79 271.89 L498.33 271.10 L499.87 270.32 L501.41 269.54 L502.95 268.76 L504.49 267.98 L506.04 267.20 L507.58 266.42 L509.12 265.64 L510.66 264.86 L512.21 264.08 L513.75 263.30 L515.29 262.53 L516.84 261.75 L518.38 260.97 L519.93 260.20 L521.47 259.42 L523.02 258.64 L524.56 257.87 L526.11 257.09 L527.65 256.31 L529.20 255.54 L530.74 254.76 L532.29 253.98 L533.83 253.21 L535.38 252.43 L536.92 251.66 L538.47 250.88 L540.01 250.10 L541.56 249.32 L543.10 248.55 L544.65 247.77 L546.19 246.99 L547.73 246.21 L549.28 245.43 L550.82 244.65 L552.36 243.87 L553.90 243.09 L555.45 242.31 L556.99 241.52 L558.53 240.74 L560.07 239.96 L561.61 239.17 L563.15 238.38 L564.69 237.60 L566.22 236.81 L567.76 236.02 L569.30 235.23 L570.83 234.44 L572.37 233.65 L573.90 232.86 L575.43 232.06 L576.97 231.27 L578.50 230.47 L580.03 229.67 L581.56 228.88 L583.09 228.08 L584.61 227.27 L586.14 226.47 L587.67 225.67 L589.19 224.86 L590.72 224.05 L592.24 223.24 L593.76 222.43 L595.28 221.62 L596.80 220.81 L598.32 219.99 L599.83 219.18 L601.35 218.36 L602.86 217.54 L604.37 216.71 L605.88 215.89 L607.39 215.06 L608.90 214.23 L610.41 213.40 L611.91 212.57 L613.42 211.73 L614.92 210.90 L616.42 210.06 L617.92 209.22 L619.42 208.37 L620.91 207.53 L622.41 206.68 L623.90 205.83 L625.39 204.98 L626.88 204.12 L628.36 203.26 L629.85 202.40 L631.33 201.54 L632.81 200.68 L634.29 199.81 L635.77 198.94 L637.24 198.06 L638.72 197.19 L640.19 196.31 L641.66 195.43 L643.13 194.54 L644.59 193.66 L646.05 192.76 L647.51 191.87 L648.97 190.98 L650.43 190.08 L651.88 189.17 L653.33 188.27 L654.78 187.36 L656.23 186.45 L657.67 185.53 L659.12 184.61 L660.55 183.69 L661.99 182.76 L663.42 181.82 L664.85 180.88 L666.27 179.93 L667.69 178.97 L669.11 178.01 L670.52 177.04 L671.93 176.06 L673.33 175.08 L674.72 174.08 L676.11 173.08 L677.50 172.06 L678.88 171.04 L680.25 170.00 L681.62 168.95 L682.98 167.89 L684.34 166.82 L685.69 165.74 L687.03 164.64 L688.36 163.54 L689.69 162.41 L691.01 161.28 L692.32 160.12 L693.63 158.96 L694.92 157.78 L696.20 156.58 L697.47 155.37 L698.73 154.14 L699.97 152.90 L701.20 151.64 L702.41 150.37 L703.60 149.08 L704.76 147.77 L705.91 146.45 L707.04 145.11 L708.14 143.76 L709.21 142.39 L710.26 141.00 L711.27 139.60 L712.26 138.18 L713.22 136.74 L714.14 135.28 L715.03 133.81 L715.89 132.32 L716.71 130.82 L717.49 129.29 L718.23 127.75 L718.93 126.19 L719.59 124.62 L720.21 123.02 L720.78 121.41 L721.31 119.79 L721.79 118.15 L722.23 116.50 L722.62 114.85 L722.96 113.18 L723.26 111.50 L723.51 109.82 L723.72 108.14 L723.87 106.46 L723.98 104.77 L724.03 103.08 L724.04 101.40 L723.99 99.72 L723.89 98.04 L723.75 96.37 L723.55 94.71 L723.29 93.06 L722.98 91.42 L722.62 89.80 L722.21 88.18 L721.74 86.58 L721.21 85.00 L720.64 83.43 L720.02 81.88 L719.35 80.34 L718.63 78.81 L717.87 77.31 L717.07 75.82 L716.22 74.34 L715.33 72.89 L714.40 71.45 L713.44 70.03 L712.44 68.62 L711.40 67.24 L710.33 65.87 L709.23 64.52 L708.09 63.19 L706.93 61.87 L705.74 60.58 L704.52 59.31 L703.27 58.05 L702.01 56.82 L700.72 55.60 L699.40 54.41 L698.07 53.24 L696.73 52.09 L695.36 50.95 L693.98 49.85 L692.58 48.76 L691.18 47.69 L689.76 46.65 L688.33 45.63 L686.89 44.63 L685.44 43.64 L683.98 42.68 L682.51 41.73 L681.04 40.80 L679.56 39.88 L678.07 38.98 L676.58 38.10 L675.08 37.22 L673.57 36.36 L672.06 35.50 L670.55 34.66 L669.03 33.82 L667.52 33.00 L665.99 32.18 L664.47 31.36 L662.95 30.55 L661.43 29.75 L659.90 28.94 L658.38 28.14 L656.86 27.34 L655.34 26.54 L653.82 25.74 L652.31 24.94 L650.80 24.13 L649.30 23.32 L647.80 22.51 L646.30 21.69 L644.81 20.86 L643.33 20.02 L641.85 19.18 L640.39 18.33 L638.93 17.46 L637.48 16.59 L636.04 15.70 L634.33 14.66" stroke="#00f"/>
<path d="M336.32 387.01 L337.77 386.20 L339.22 385.39 L340.67 384.58 L342.12 383.78 L343.57 382.97 L345.03 382.16 L346.48 381.36 L347.94 380.55 L349.40 379.75 L350.85 378.95 L352.31 378.15 L353.77 377.35 L355.23 376.55 L356.69 375.75 L358.15 374.95 L359.61 374.15 L361.07 373.35 L362.53 372.56 L364.00 371.76 L365.46 370.97 L366.93 370.17 L368.39 369.38 L369.86 368.59 L371.33 367.80 L372.79 367.01 L374.26 366.22 L375.73 365.43 L377.20 364.64 L378.67 363.85 L380.14 363.06 L381.61 362.28 L383.08 361.49 L384.55 360.71 L386.03 359.92 L387.50 359.14 L388.98 358.35 L390.45 357.57 L391.93 356.79 L393.40 356.01 L394.88 355.23 L396.35 354.45 L397.83 353.67 L399.31 352.89 L400.79 352.11 L402.27 351.33 L403.75 350.56 L405.23 349.78 L406.71 349.00 L408.19 348.23 L409.67 347.45 L411.15 346.68 L412.63 345.90 L414.12 345.13 L415.60 344.36 L417.08 343.59 L418.57 342.82 L420.05 342.04 L421.54 341.27 L423.02 340.50 L424.51 339.73 L425.99 338.97 L427.48 338.20 L428.97 337.43 L430.45 336.66 L431.94 335.89 L433.43 335.13 L434.92 334.36 L436.41 333.59 L437.90 332.83 L439.39 332.06 L440.88 331.30 L442.37 330.54 L443.86 329.77 L445.35 329.01 L446.84 328.25 L448.33 327.48 L449.82 326.72 L451.31 325.96 L452.81 325.20 L454.30 324.44 L455.79 323.68 L457.28 322.92 L458.78 322.16 L460.27 321.40 L461.76 320.64 L463.26 319.88 L464.75 319.12 L466.25 318.36 L467.74 317.60 L469.24 316.85 L470.73 316.09 L472.23 315.33 L473.72 314.58 L475.22 313.82 L476.71 313.06 L478.21 312.31 L479.71 311.55 L481.20 310.80 L482.70 310.04 L484.19 309.29 L485.69 308.53 L487.19 307.78 L488.68 307.02 L490.18 306.27 L491.68 305.51 L493.18 304.76 L494.67 304.01 L496.17 303.25 L497.67 302.50 L499.16 301.75 L500.66 300.99 L502.16 300.24 L503.66 299.49 L505.15 298.74 L506.65 297.98 L508.15 297.23 L509.65 296.48 L511.15 295.73 L512.64 294.98 L514.14 294.23 L515.64 293.47 L517.14 292.72 L518.63 291.97 L520.13 291.22 L521.63 290.47 L523.13 289.72 L524.62 288.97 L526.12 288.22 L527.62 287.46 L529.12 286.71 L530.61 285.96 L532.11 285.21 L533.61 284.46 L535.10 283.71 L536.60 282.96 L538.10 282.21 L539.59 281.46 L541.09 280.71 L542.59 279.96 L544.08 279.21 L545.58 278.46 L547.07 277.70 L548.57 276.95 L550.07 276.20 L551.56 275.45 L553.06 274.70 L554.55 273.95 L556.05 273.20 L557.54 272.45 L559.04 271.70 L560.53 270.94 L562.02 270.19 L563.52 269.44 L565.01 268.69 L566.50 267.94 L568.00 267.18 L569.49 266.43 L570.98 265.68 L572.47 264.93 L573.97 264.17 L575.46 263.42 L576.95 262.67 L578.44 261.92 L579.93 261.16 L581.42 260.41 L582.91 259.66 L584.40 258.90 L585.89 258.15 L587.38 257.39 L588.87 256.64 L590.36 255.88 L591.85 255.13 L593.33 254.37 L594.82 253.62 L596.31 252.86 L597.79 252.11 L599.28 251.35 L600.77 250.59 L602.25 249.84 L603.74 249.08 L605.22 248.32 L606.71 247.57 L608.19 246.81 L609.67 246.05 L611.15 245.29 L612.64 244.53 L614.12 243.77 L615.60 243.01 L617.08 242.25 L618.56 241.49 L620.04 240.73 L621.52 239.97 L623.00 239.21 L624.48 238.45 L625.96 237.69 L627.43 236.92 L628.91 236.16 L630.39 235.40 L631.86 234.63 L633.34 233.87 L634.81 233.11 L636.29 232.34 L637.76 231.58 L639.23 230.81 L640.71 230.04 L642.18 229.28 L643.65 228.51 L645.12 227.74 L646.59 226.97 L648.06 226.20 L649.53 225.43 L651.00 224.66 L652.46 223.89 L653.93 223.12 L655.40 222.34 L656.86 221.56 L658.33 220.79 L659.79 220.01 L661.25 219.23 L662.71 218.45 L664.18 217.66 L665.64 216.88 L667.10 216.09 L668.56 215.30 L670.01 214.51 L671.47 213.71 L672.93 212.92 L674.38 212.12 L675.84 211.32 L677.29 210.52 L678.75 209.71 L680.20 208.90 L681.65 208.09 L683.10 207.28 L684.55 206.46 L686.00 205.65 L687.45 204.82 L688.90 204.00 L690.34 203.17 L691.79 202.34 L693.23 201.50 L694.68 200.67 L696.12 199.82 L697.56 198.98 L699.00 198.13 L700.44 197.28 L701.88 196.42 L703.31 195.56 L704.75 194.70 L706.18 193.83 L707.62 192.95 L709.05 192.08 L710.48 191.20 L711.91 190.31 L713.34 189.42 L714.77 188.53 L716.20 187.63 L717.62 186.73 L719.05 185.82 L720.47 184.90 L721.89 183.98 L723.31 183.06 L724.72 182.13 L726.13 181.19 L727.53 180.24 L728.93 179.29 L730.32 178.33 L731.71 177.37 L733.09 176.39 L734.47 175.41 L735.83 174.42 L737.19 173.42 L738.54 172.41 L739.89 171.39 L741.22 170.36 L742.54 169.32 L743.85 168.27 L745.15 167.21 L746.44 166.14 L747.72 165.05 L748.99 163.96 L750.24 162.85 L751.48 161.73 L752.70 160.60 L753.91 159.46 L755.11 158.30 L756.29 157.13 L757.46 155.95 L758.61 154.75 L759.74 153.54 L760.86 152.31 L761.95 151.07 L763.03 149.81 L764.10 148.54 L765.14 147.25 L766.16 145.94 L767.16 144.62 L768.15 143.28 L769.11 141.93 L770.05 140.56 L770.96 139.17 L771.86 137.76 L772.73 136.33 L773.58 134.89 L774.40 133.42 L775.20 131.94 L775.97 130.45 L776.72 128.93 L777.43 127.41 L778.11 125.86 L778.76 124.31 L779.38 122.75 L779.96 121.17 L780.51 119.58 L781.01 117.99 L781.48 116.39 L781.91 114.78 L782.30 113.16 L782.64 111.55 L782.94 109.92 L783.19 108.30 L783.39 106.67 L783.55 105.04 L783.65 103.42 L783.71 101.79 L783.71 100.17 L783.66 98.55 L783.55 96.93 L783.39 95.32 L783.17 93.71 L782.90 92.11 L782.58 90.52 L782.21 88.94 L781.80 87.36 L781.33 85.80 L780.82 84.24 L780.27 82.70 L779.67 81.17 L779.03 79.65 L778.35 78.14 L777.63 76.65 L776.87 75.17 L776.07 73.70 L775.24 72.26 L774.37 70.83 L773.47 69.42 L772.53 68.02 L771.57 66.65 L770.58 65.29 L769.55 63.96 L768.50 62.65 L767.43 61.35 L766.32 60.08 L765.20 58.83 L764.05 57.60 L762.88 56.39 L761.69 55.20 L760.47 54.02 L759.24 52.87 L757.99 51.73 L756.73 50.60 L755.44 49.50 L754.15 48.41 L752.84 47.33 L751.51 46.27 L750.18 45.22 L748.83 44.19 L747.47 43.17 L746.11 42.16 L744.73 41.17 L743.35 40.19 L741.97 39.21 L740.58 38.25 L739.18 37.30 L737.79 36.36 L736.39 35.43 L734.99 34.51 L733.58 33.59 L732.17 32.69 L730.76 31.79 L729.35 30.90 L727.94 30.03 L726.52 29.15 L725.10 28.29 L723.68 27.43 L722.25 26.58 L720.83 25.74 L719.40 24.90 L717.97 24.07 L716.54 23.25 L715.10 22.43 L713.67 21.61 L712.23 20.81 L710.79 20.00 L709.35 19.21 L707.91 18.41 L706.46 17.62 L705.02 16.84 L703.57 16.06 L701.81 15.10" stroke="#00f" stroke-dasharray="10.9 8.6"/>
<path d="M205.99 410.19 L207.64 409.35 L209.29 408.52 L210.95 407.69 L212.60 406.86 L214.25 406.02 L215.90 405.19 L217.55 404.36 L219.20 403.52 L220.85 402.69 L222.50 401.85 L224.15 401.02 L225.80 400.18 L227.45 399.35 L229.10 398.51 L230.74 397.68 L232.39 396.84 L234.04 396.01 L235.69 395.17 L237.34 394.34 L238.98 393.50 L240.63 392.67 L242.28 391.83 L243.93 390.99 L245.57 390.16 L247.22 389.32 L248.87 388.49 L250.51 387.65 L252.16 386.81 L253.80 385.98 L255.45 385.14 L257.10 384.31 L258.74 383.47 L260.39 382.64 L262.04 381.80 L263.68 380.96 L265.33 380.13 L266.97 379.29 L268.62 378.46 L270.26 377.62 L271.91 376.79 L273.56 375.96 L275.20 375.12 L276.85 374.29 L278.49 373.45 L280.14 372.62 L281.78 371.79 L283.43 370.95 L285.08 370.12 L286.72 369.29 L288.37 368.46 L290.01 367.63 L291.66 366.79 L293.31 365.96 L294.95 365.13 L296.60 364.30 L298.25 363.47 L299.89 362.64 L301.54 361.81 L303.19 360.98 L304.83 360.16 L306.48 359.33 L308.13 358.50 L309.78 357.67 L311.42 356.85 L313.07 356.02 L314.72 355.20 L316.37 354.37 L318.02 353.55 L319.67 352.72 L321.32 351.90 L322.97 351.08 L324.62 350.26 L326.26 349.44 L327.92 348.62 L329.57 347.80 L331.22 346.98 L332.87 346.16 L334.52 345.34 L336.17 344.52 L337.82 343.71 L339.47 342.89 L341.13 342.07 L342.78 341.26 L344.43 340.45 L346.09 339.63 L347.74 338.82 L349.40 338.01 L351.05 337.20 L352.71 336.39 L354.36 335.58 L356.02 334.77 L357.67 333.97 L359.33 333.16 L360.99 332.36 L362.65 331.55 L364.30 330.75 L365.96 329.95 L367.62 329.14 L369.28 328.34 L370.94 327.54 L372.60 326.74 L374.26 325.95 L375.92 325.15 L377.59 324.35 L379.25 323.56 L380.91 322.77 L382.57 321.97 L384.24 321.18 L385.90 320.39 L387.57 319.60 L389.23 318.81 L390.90 318.03 L392.57 317.24 L394.24 316.46 L395.90 315.67 L397.57 314.89 L399.24 314.11 L400.91 313.33 L402.58 312.55 L404.25 311.77 L405.93 311.00 L407.60 310.22 L409.27 309.45 L410.95 308.68 L412.62 307.91 L414.30 307.14 L415.97 306.37 L417.65 305.60 L419.33 304.83 L421.01 304.07 L422.68 303.31 L424.36 302.54 L426.05 301.78 L427.73 301.03 L429.41 300.27 L431.09 299.51 L432.78 298.76 L434.46 298.00 L436.14 297.25 L437.83 296.50 L439.52 295.75 L441.21 295.01 L442.89 294.26 L444.58 293.52 L446.27 292.77 L447.96 292.03 L449.66 291.29 L451.35 290.56 L453.04 289.82 L454.74 289.09 L456.43 288.35 L458.13 287.62 L459.83 286.89 L461.53 286.17 L463.22 285.44 L464.92 284.71 L466.63 283.99 L468.33 283.27 L470.03 282.55 L471.73 281.83 L473.44 281.12 L475.14 280.40 L476.85 279.69 L478.56 278.98 L480.27 278.27 L481.97 277.56 L483.68 276.85 L485.39 276.14 L487.10 275.43 L488.81 274.73 L490.52 274.02 L492.24 273.32 L493.95 272.62 L495.66 271.91 L497.37 271.21 L499.09 270.51 L500.80 269.81 L502.51 269.11 L504.23 268.41 L505.94 267.71 L507.65 267.01 L509.37 266.31 L511.08 265.62 L512.80 264.92 L514.51 264.22 L516.23 263.52 L517.94 262.82 L519.66 262.12 L521.37 261.42 L523.08 260.72 L524.80 260.02 L526.51 259.32 L528.22 258.62 L529.94 257.92 L531.65 257.22 L533.36 256.52 L535.07 255.82 L536.79 255.11 L538.50 254.41 L540.21 253.70 L541.92 253.00 L543.63 252.29 L545.34 251.58 L547.04 250.87 L548.75 250.16 L550.46 249.45 L552.16 248.74 L553.87 248.03 L555.57 247.31 L557.28 246.59 L558.98 245.87 L560.68 245.15 L562.38 244.43 L564.08 243.71 L565.78 242.98 L567.48 242.26 L569.18 241.53 L570.87 240.80 L572.57 240.06 L574.26 239.33 L575.95 238.59 L577.65 237.85 L579.34 237.11 L581.02 236.36 L582.71 235.62 L584.40 234.87 L586.08 234.12 L587.76 233.36 L589.45 232.61 L591.13 231.85 L592.80 231.09 L594.48 230.32 L596.16 229.55 L597.83 228.78 L599.50 228.01 L601.17 227.23 L602.84 226.45 L604.51 225.67 L606.17 224.88 L607.83 224.09 L609.49 223.30 L611.15 222.50 L612.81 221.70 L614.47 220.90 L616.12 220.09 L617.77 219.28 L619.42 218.47 L621.07 217.65 L622.71 216.83 L624.35 216.00 L625.99 215.17 L627.63 214.34 L629.27 213.50 L630.90 212.66 L632.53 211.81 L634.16 210.96 L635.79 210.11 L637.41 209.25 L639.03 208.38 L640.65 207.52 L642.26 206.64 L643.88 205.77 L645.49 204.88 L647.10 204.00 L648.70 203.10 L650.30 202.21 L651.90 201.31 L653.50 200.40 L655.10 199.49 L656.69 198.57 L658.28 197.65 L659.86 196.72 L661.44 195.79 L663.02 194.85 L664.60 193.91 L666.17 192.96 L667.74 192.01 L669.31 191.05 L670.87 190.08 L672.44 189.11 L673.99 188.13 L675.55 187.15 L677.10 186.16 L678.65 185.17 L680.19 184.17 L681.73 183.16 L683.27 182.15 L684.80 181.13 L686.33 180.10 L687.86 179.07 L689.38 178.03 L690.90 176.99 L692.42 175.93 L693.93 174.88 L695.44 173.81 L696.94 172.74 L698.44 171.66 L699.94 170.58 L701.43 169.48 L702.91 168.38 L704.39 167.27 L705.86 166.15 L707.32 165.03 L708.78 163.89 L710.23 162.74 L711.67 161.59 L713.11 160.42 L714.53 159.25 L715.95 158.06 L717.35 156.86 L718.75 155.65 L720.13 154.44 L721.51 153.20 L722.87 151.96 L724.22 150.71 L725.56 149.44 L726.89 148.16 L728.21 146.87 L729.51 145.56 L730.80 144.24 L732.07 142.91 L733.33 141.56 L734.58 140.20 L735.81 138.82 L737.02 137.43 L738.22 136.02 L739.41 134.60 L740.57 133.16 L741.72 131.70 L742.85 130.23 L743.97 128.75 L745.06 127.24 L746.13 125.72 L747.18 124.19 L748.20 122.64 L749.20 121.08 L750.18 119.50 L751.13 117.91 L752.04 116.30 L752.93 114.67 L753.79 113.04 L754.61 111.39 L755.40 109.72 L756.16 108.05 L756.88 106.36 L757.56 104.65 L758.20 102.94 L758.81 101.21 L759.37 99.46 L759.89 97.71 L760.37 95.94 L760.80 94.17 L761.18 92.38 L761.53 90.58 L761.83 88.77 L762.08 86.96 L762.29 85.14 L762.45 83.32 L762.57 81.49 L762.64 79.66 L762.67 77.83 L762.65 76.00 L762.58 74.17 L762.47 72.34 L762.32 70.51 L762.11 68.69 L761.87 66.88 L761.57 65.07 L761.23 63.26 L760.85 61.47 L760.41 59.69 L759.94 57.92 L759.41 56.16 L758.84 54.41 L758.23 52.67 L757.57 50.95 L756.87 49.25 L756.13 47.55 L755.35 45.88 L754.54 44.21 L753.69 42.57 L752.80 40.94 L751.88 39.32 L750.93 37.72 L749.95 36.15 L748.93 34.58 L747.89 33.04 L746.82 31.52 L745.72 30.01 L744.60 28.53 L743.45 27.06 L742.28 25.62 L741.09 24.20 L739.88 22.79 L738.65 21.42 L737.40 20.06 L736.13 18.73 L734.85 17.42 L733.56 16.13 L732.15 14.71" stroke="#f00"/>
<path d="M142.14 45.2H234.0" stroke="#00f" stroke-dasharray="19.6 2.35 2.4 2.39"/>
<path d="M142.14 74.4H234.0" stroke="#00f"/>
<path d="M142.14 103.6H234.0" stroke="#00f" stroke-dasharray="10.9 8.6"/>
<path d="M142.14 132.8H234.0" stroke="#f00"/>
</g>
<use href="#g0" transform="translate(103.55 447.50) scale(0.06050 0.06094)"/><use href="#g1" transform="translate(122.91 447.50) scale(0.06050 0.06094)"/><use href="#g2" transform="translate(142.27 447.50) scale(0.06050 0.06094)"/><use href="#g2" transform="translate(161.63 447.50) scale(0.06050 0.06094)"/>
<use href="#g0" transform="translate(225.92 447.50) scale(0.06050 0.06094)"/><use href="#g2" transform="translate(245.28 447.50) scale(0.06050 0.06094)"/><use href="#g2" transform="translate(264.64 447.50) scale(0.06050 0.06094)"/><use href="#g2" transform="translate(284.00 447.50) scale(0.06050 0.06094)"/>
<use href="#g1" transform="translate(348.28 447.50) scale(0.06050 0.06094)"/><use href="#g3" transform="translate(367.64 447.50) scale(0.06050 0.06094)"/><use href="#g2" transform="translate(387.00 447.50) scale(0.06050 0.06094)"/><use href="#g2" transform="translate(406.36 447.50) scale(0.06050 0.06094)"/>
<use href="#g1" transform="translate(470.65 447.50) scale(0.06050 0.06094)"/><use href="#g4" transform="translate(490.01 447.50) scale(0.06050 0.06094)"/><use href="#g2" transform="translate(509.37 447.50) scale(0.06050 0.06094)"/><use href="#g2" transform="translate(528.73 447.50) scale(0.06050 0.06094)"/>
<use href="#g1" transform="translate(593.01 447.50) scale(0.06050 0.06094)"/><use href="#g5" transform="translate(612.37 447.50) scale(0.06050 0.06094)"/><use href="#g2" transform="translate(631.73 447.50) scale(0.06050 0.06094)"/><use href="#g2" transform="translate(651.09 447.50) scale(0.06050 0.06094)"/>
<use href="#g1" transform="translate(715.38 447.50) scale(0.06050 0.06094)"/><use href="#g1" transform="translate(734.74 447.50) scale(0.06050 0.06094)"/><use href="#g2" transform="translate(754.10 447.50) scale(0.06050 0.06094)"/><use href="#g2" transform="translate(773.46 447.50) scale(0.06050 0.06094)"/>
<use href="#g6" transform="translate(52.14 26.21) scale(0.06050 0.06094)"/><use href="#g4" transform="translate(77.30 26.21) scale(0.06050 0.06094)"/><use href="#g7" transform="translate(96.66 26.21) scale(0.06050 0.06094)"/><use href="#g8" transform="translate(106.34 26.21) scale(0.06050 0.06094)"/>
<use href="#g6" transform="translate(81.18 99.21) scale(0.06050 0.06094)"/><use href="#g4" transform="translate(106.34 99.21) scale(0.06050 0.06094)"/>
<use href="#g6" transform="translate(52.14 172.21) scale(0.06050 0.06094)"/><use href="#g8" transform="translate(77.30 172.21) scale(0.06050 0.06094)"/><use href="#g7" transform="translate(96.66 172.21) scale(0.06050 0.06094)"/><use href="#g8" transform="translate(106.34 172.21) scale(0.06050 0.06094)"/>
<use href="#g6" transform="translate(81.18 245.21) scale(0.06050 0.06094)"/><use href="#g8" transform="translate(106.34 245.21) scale(0.06050 0.06094)"/>
<use href="#g6" transform="translate(52.14 318.21) scale(0.06050 0.06094)"/><use href="#g5" transform="translate(77.30 318.21) scale(0.06050 0.06094)"/><use href="#g7" transform="translate(96.66 318.21) scale(0.06050 0.06094)"/><use href="#g8" transform="translate(106.34 318.21) scale(0.06050 0.06094)"/>
<use href="#g6" transform="translate(80.21 391.21) scale(0.06050 0.06094)"/><use href="#g5" transform="translate(105.38 391.21) scale(0.06050 0.06094)"/>
<g fill="#00f"><use href="#g9" transform="translate(245.50 52.00) scale(0.04525 0.04512)"/><use href="#g10" transform="translate(255.64 52.00) scale(0.04525 0.04512)"/><use href="#g11" transform="translate(273.74 52.00) scale(0.04525 0.04512)"/><use href="#g12" transform="translate(289.66 52.00) scale(0.04525 0.04512)"/><use href="#g13" transform="translate(307.04 52.00) scale(0.04525 0.04512)"/><use href="#g14" transform="translate(317.18 52.00) scale(0.04525 0.04512)"/><use href="#g15" transform="translate(347.58 52.00) scale(0.04525 0.04512)"/><use href="#g16" transform="translate(362.06 52.00) scale(0.04525 0.04512)"/><use href="#g17" transform="translate(369.30 52.00) scale(0.04525 0.04512)"/><use href="#g18" transform="translate(383.78 52.00) scale(0.04525 0.04512)"/></g>
<g fill="#00f"><use href="#g19" transform="translate(433.82 52.00) scale(0.04525 0.04512)"/><use href="#g11" transform="translate(449.02 52.00) scale(0.04525 0.04512)"/><use href="#g20" transform="translate(464.95 52.00) scale(0.04525 0.04512)"/><use href="#g14" transform="translate(480.88 52.00) scale(0.04525 0.04512)"/><use href="#g15" transform="translate(499.70 52.00) scale(0.04525 0.04512)"/><use href="#g16" transform="translate(514.18 52.00) scale(0.04525 0.04512)"/><use href="#g21" transform="translate(521.42 52.00) scale(0.04525 0.04512)"/></g>
<g fill="#00f"><use href="#g9" transform="translate(245.50 81.20) scale(0.04525 0.04512)"/><use href="#g10" transform="translate(255.64 81.20) scale(0.04525 0.04512)"/><use href="#g11" transform="translate(273.74 81.20) scale(0.04525 0.04512)"/><use href="#g12" transform="translate(289.66 81.20) scale(0.04525 0.04512)"/><use href="#g13" transform="translate(307.04 81.20) scale(0.04525 0.04512)"/><use href="#g14" transform="translate(317.18 81.20) scale(0.04525 0.04512)"/><use href="#g15" transform="translate(347.58 81.20) scale(0.04525 0.04512)"/><use href="#g16" transform="translate(362.06 81.20) scale(0.04525 0.04512)"/><use href="#g22" transform="translate(369.30 81.20) scale(0.04525 0.04512)"/><use href="#g15" transform="translate(383.78 81.20) scale(0.04525 0.04512)"/></g>
<g fill="#00f"><use href="#g19" transform="translate(433.82 81.20) scale(0.04525 0.04512)"/><use href="#g11" transform="translate(449.02 81.20) scale(0.04525 0.04512)"/><use href="#g20" transform="translate(464.95 81.20) scale(0.04525 0.04512)"/><use href="#g14" transform="translate(480.88 81.20) scale(0.04525 0.04512)"/><use href="#g15" transform="translate(499.70 81.20) scale(0.04525 0.04512)"/><use href="#g16" transform="translate(514.18 81.20) scale(0.04525 0.04512)"/><use href="#g21" transform="translate(521.42 81.20) scale(0.04525 0.04512)"/></g>
<g fill="#00f"><use href="#g9" transform="translate(245.50 110.40) scale(0.04525 0.04512)"/><use href="#g10" transform="translate(255.64 110.40) scale(0.04525 0.04512)"/><use href="#g11" transform="translate(273.74 110.40) scale(0.04525 0.04512)"/><use href="#g12" transform="translate(289.66 110.40) scale(0.04525 0.04512)"/><use href="#g13" transform="translate(307.04 110.40) scale(0.04525 0.04512)"/><use href="#g14" transform="translate(317.18 110.40) scale(0.04525 0.04512)"/><use href="#g15" transform="translate(347.58 110.40) scale(0.04525 0.04512)"/><use href="#g16" transform="translate(362.06 110.40) scale(0.04525 0.04512)"/><use href="#g23" transform="translate(369.30 110.40) scale(0.04525 0.04512)"/><use href="#g18" transform="translate(383.78 110.40) scale(0.04525 0.04512)"/></g>
<g fill="#00f"><use href="#g19" transform="translate(433.82 110.40) scale(0.04525 0.04512)"/><use href="#g11" transform="translate(449.02 110.40) scale(0.04525 0.04512)"/><use href="#g20" transform="translate(464.95 110.40) scale(0.04525 0.04512)"/><use href="#g14" transform="translate(480.88 110.40) scale(0.04525 0.04512)"/><use href="#g15" transform="translate(499.70 110.40) scale(0.04525 0.04512)"/><use href="#g16" transform="translate(514.18 110.40) scale(0.04525 0.04512)"/><use href="#g21" transform="translate(521.42 110.40) scale(0.04525 0.04512)"/></g>
<g fill="#f00"><use href="#g9" transform="translate(245.50 139.60) scale(0.04525 0.04512)"/><use href="#g10" transform="translate(255.64 139.60) scale(0.04525 0.04512)"/><use href="#g11" transform="translate(273.74 139.60) scale(0.04525 0.04512)"/><use href="#g12" transform="translate(289.66 139.60) scale(0.04525 0.04512)"/><use href="#g13" transform="translate(307.04 139.60) scale(0.04525 0.04512)"/><use href="#g14" transform="translate(317.18 139.60) scale(0.04525 0.04512)"/><use href="#g24" transform="translate(336.00 139.60) scale(0.04525 0.04512)"/><use href="#g15" transform="translate(354.82 139.60) scale(0.04525 0.04512)"/><use href="#g16" transform="translate(369.30 139.60) scale(0.04525 0.04512)"/><use href="#g22" transform="translate(376.54 139.60) scale(0.04525 0.04512)"/><use href="#g15" transform="translate(391.02 139.60) scale(0.04525 0.04512)"/></g>
<g fill="#f00"><use href="#g19" transform="translate(441.06 139.60) scale(0.04525 0.04512)"/><use href="#g11" transform="translate(456.26 139.60) scale(0.04525 0.04512)"/><use href="#g20" transform="translate(472.19 139.60) scale(0.04525 0.04512)"/><use href="#g14" transform="translate(488.12 139.60) scale(0.04525 0.04512)"/><use href="#g23" transform="translate(506.94 139.60) scale(0.04525 0.04512)"/><use href="#g16" transform="translate(521.42 139.60) scale(0.04525 0.04512)"/><use href="#g15" transform="translate(528.66 139.60) scale(0.04525 0.04512)"/></g>
<use href="#g25" transform="translate(425.60 488.45) scale(0.05875 0.05925)"/>
<use href="#g26" transform="translate(443.86 497.85) scale(0.03456 0.03631)"/><use href="#g27" transform="translate(454.37 497.85) scale(0.03456 0.03631)"/><use href="#g27" transform="translate(461.56 497.85) scale(0.03456 0.03631)"/>
<use href="#g28" transform="translate(484.50 488.45) scale(0.05875 0.05925)"/><use href="#g29" transform="translate(497.66 488.45) scale(0.05875 0.05925)"/><use href="#g30" transform="translate(518.34 488.45) scale(0.05875 0.05925)"/>
<g transform="translate(50.25 239.35) rotate(-90)"><use href="#g31" transform="translate(0.00 0.00) scale(0.05875 0.05925)"/><use href="#g32" transform="translate(23.50 9.40) scale(0.03456 0.03631)"/><use href="#g33" transform="translate(35.11 9.40) scale(0.03456 0.03631)"/><use href="#g34" transform="translate(46.17 9.40) scale(0.03456 0.03631)"/></g>
</svg></body></html>
